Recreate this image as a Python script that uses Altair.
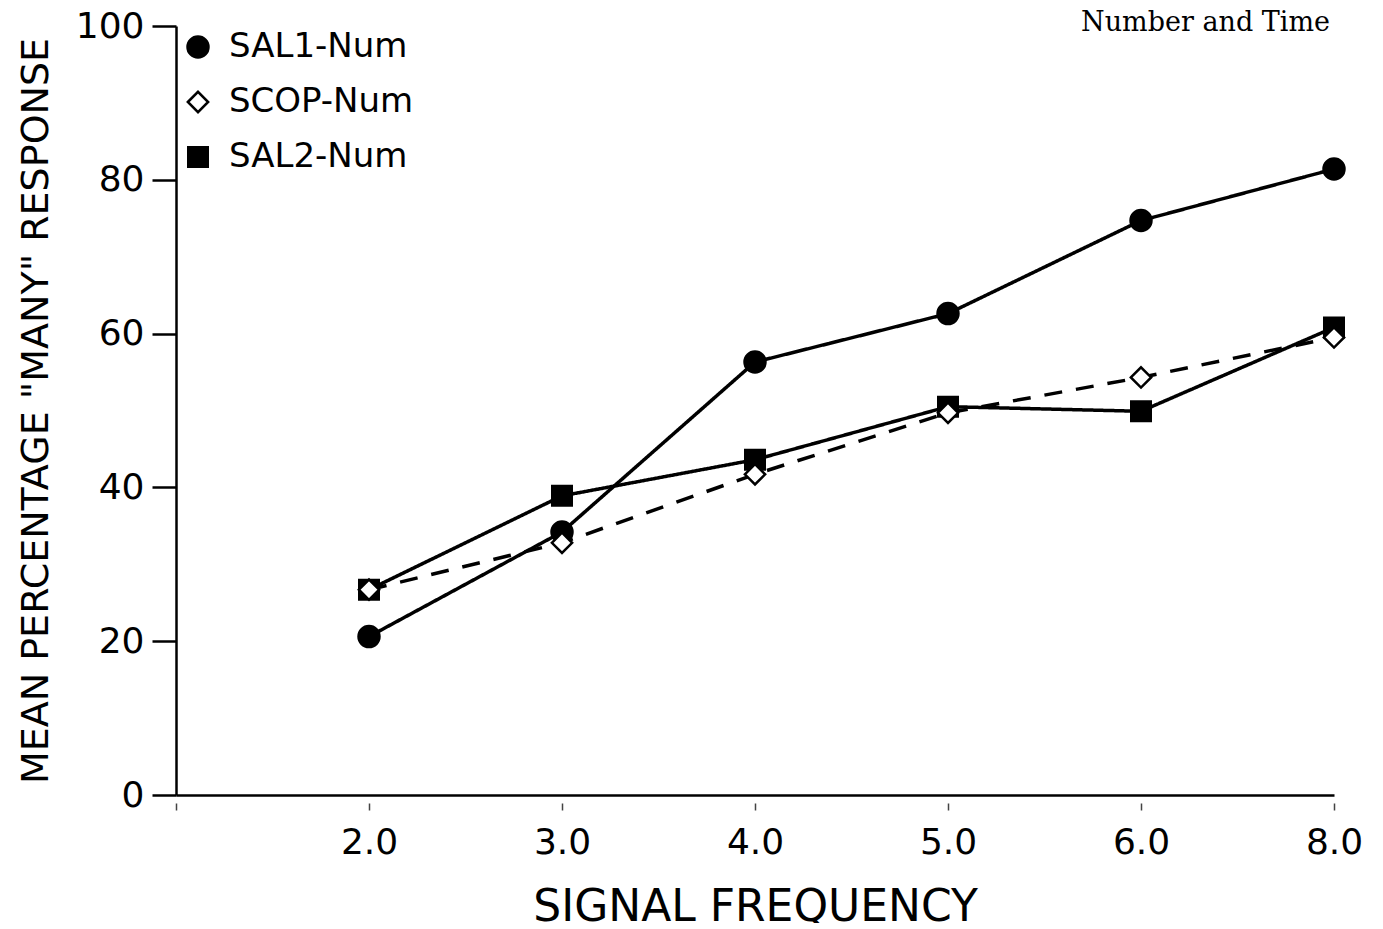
import altair as alt
import pandas as pd

# ---- data ----
freq_labels = ["2.0", "3.0", "4.0", "5.0", "6.0", "8.0"]
x_domain = [" "] + freq_labels  # first slot is an empty, unlabeled tick
series_names = ["SAL1-Num", "SCOP-Num", "SAL2-Num"]
series_styles = ["solid", "dashed", "solid"]
sal1 = [20.6, 34.2, 56.3, 62.6, 74.7, 81.4]
scop = [26.7, 32.8, 41.7, 49.7, 54.3, 59.5]
sal2 = [26.7, 38.9, 43.6, 50.5, 49.9, 60.8]
y_ticks = [0, 20, 40, 60, 80, 100]
corner_title = "Number and Time"

W, H = 1158, 769

style_of = dict(zip(series_names, series_styles))
# draw order: SAL1, SAL2, then SCOP on top
rows = []
for name, vals in [("SAL1-Num", sal1), ("SAL2-Num", sal2), ("SCOP-Num", scop)]:
    for f, v in zip(freq_labels, vals):
        rows.append({"freq": f, "value": v, "series": name, "style": style_of[name]})
df = pd.DataFrame(rows)

FONT = "DejaVu Sans"

x_enc = alt.X(
    "freq:O",
    scale=alt.Scale(type="point", domain=x_domain, padding=0),
    sort=x_domain,
    axis=alt.Axis(
        title="SIGNAL FREQUENCY",
        labelAngle=0,
        labelFont=FONT,
        labelFontSize=36,
        labelColor="black",
        labelPadding=14,
        tickSize=16,
        tickWidth=1.5,
        tickColor="#444",
        tickDash=[0, 8, 7, 100],
        domainColor="black",
        domainWidth=2.5,
        titleFont=FONT,
        titleFontSize=44,
        titleFontWeight="normal",
        titleColor="black",
        titlePadding=25,
        grid=False,
    ),
)

y_enc = alt.Y(
    "value:Q",
    scale=alt.Scale(domain=[0, 100], nice=False, zero=True),
    axis=alt.Axis(
        title='MEAN PERCENTAGE "MANY" RESPONSE',
        values=y_ticks,
        labelFont=FONT,
        labelFontSize=36,
        labelColor="black",
        labelPadding=8,
        tickSize=24,
        tickWidth=2.5,
        tickColor="black",
        domainColor="black",
        domainWidth=2.5,
        titleFont=FONT,
        titleFontSize=38,
        titleFontWeight="normal",
        titleColor="black",
        titlePadding=20,
        grid=False,
    ),
)

lines = alt.Chart(df).mark_line(color="black", strokeWidth=3.5).encode(
    x=x_enc,
    y=y_enc,
    detail="series:N",
    strokeDash=alt.StrokeDash(
        "style:N",
        scale=alt.Scale(domain=["solid", "dashed"], range=[[1, 0], [18, 14]]),
        legend=None,
    ),
)

points = alt.Chart(df).mark_point(
    strokeWidth=2.5, opacity=1, fillOpacity=1
).encode(
    x=x_enc,
    y=y_enc,
    shape=alt.Shape(
        "series:N",
        scale=alt.Scale(domain=series_names, range=["circle", "diamond", "square"]),
        title=None,
    ),
    fill=alt.Fill(
        "series:N",
        scale=alt.Scale(domain=series_names, range=["black", "white", "black"]),
        title=None,
    ),
    stroke=alt.Stroke(
        "series:N",
        scale=alt.Scale(domain=series_names, range=["black", "black", "black"]),
        title=None,
    ),
    size=alt.Size(
        "series:N",
        scale=alt.Scale(domain=series_names, range=[440, 380, 180]),
        title=None,
    ),
)

title_text = alt.Chart(pd.DataFrame({"t": [corner_title]})).mark_text(
    align="right",
    baseline="alphabetic",
    font="DejaVu Serif",
    fontSize=27,
    color="black",
).encode(
    text="t:N",
    x=alt.value(W - 4),
    y=alt.value(5),
)

chart = (
    alt.layer(lines, points, title_text)
    .properties(
        width=W,
        height=H,
        autosize=alt.AutoSizeParams(type="none"),
        padding={"left": 168, "top": 18, "right": 30, "bottom": 128},
    )
    .configure_view(stroke=None)
    .configure_legend(
        orient="none",
        legendX=5,
        legendY=4,
        labelFont=FONT,
        labelFontSize=34,
        labelColor="black",
        labelOffset=14,
        labelLimit=500,
        rowPadding=21,
        symbolStrokeColor="black",
        symbolStrokeWidth=2.5,
        padding=0,
    )
)

chart.save("out.html", embed_options={"renderer": "svg", "actions": False})
